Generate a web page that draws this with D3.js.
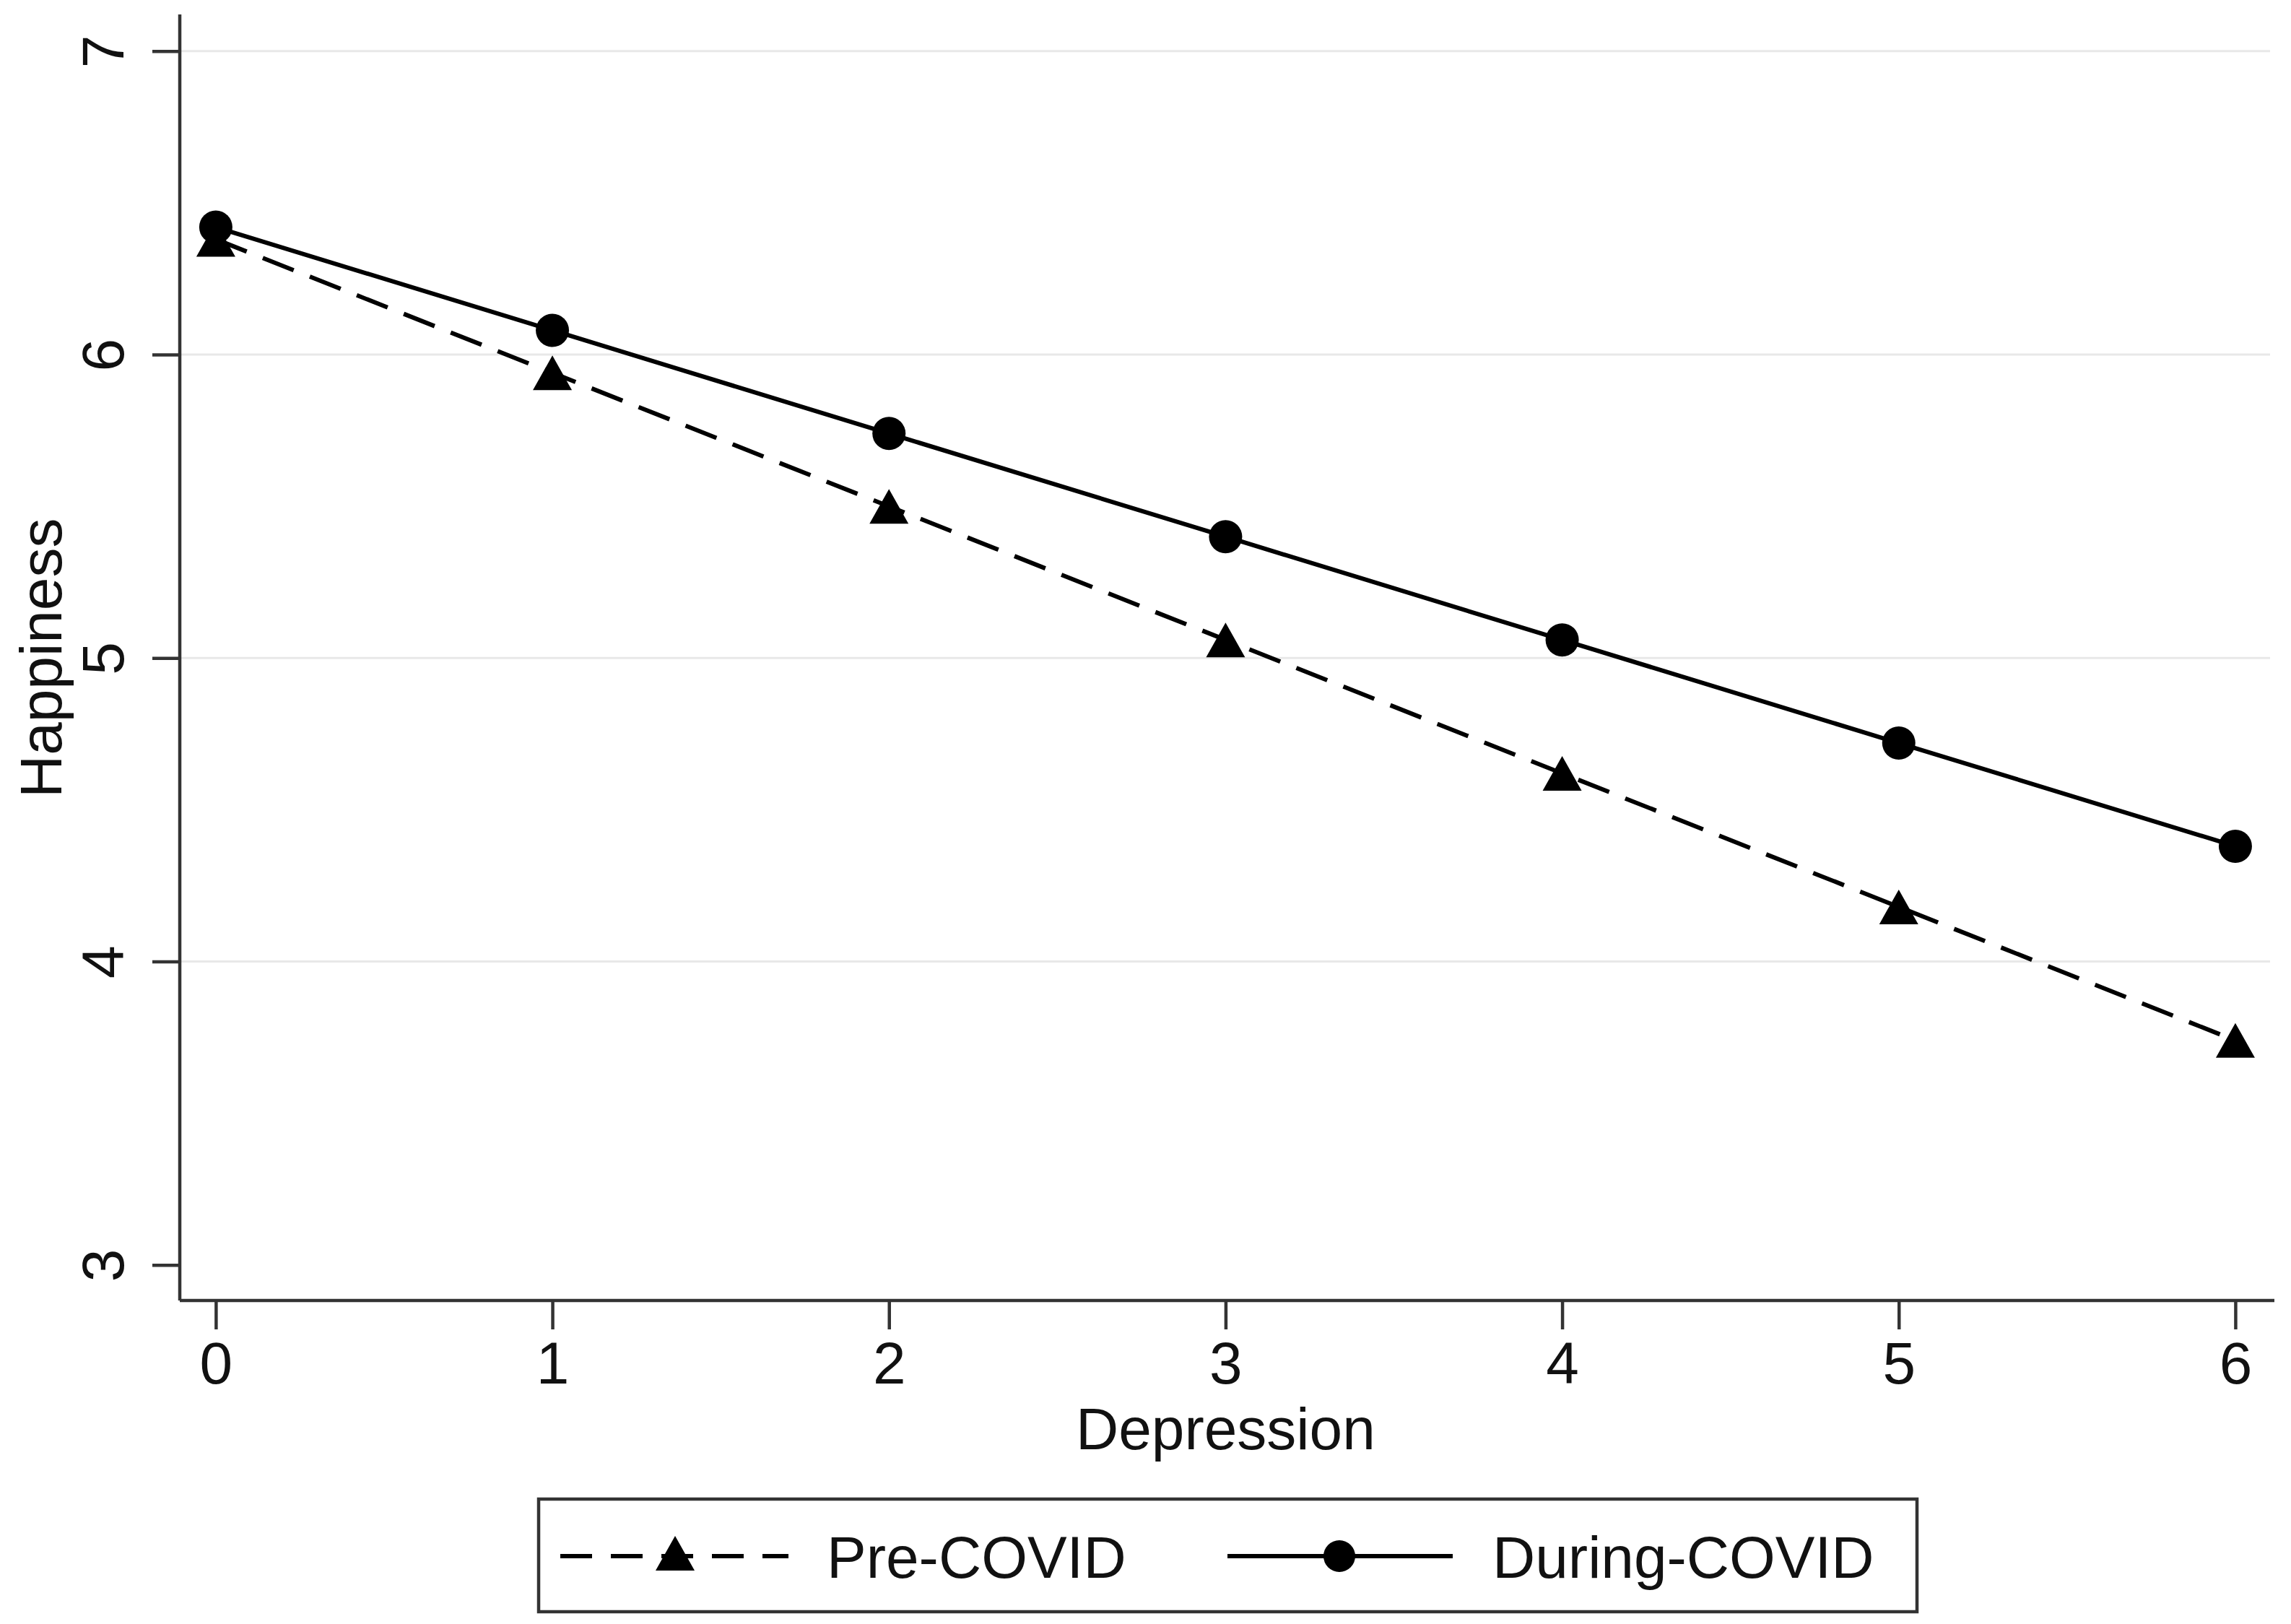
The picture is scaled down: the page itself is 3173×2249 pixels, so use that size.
<!DOCTYPE html>
<html>
<head>
<meta charset="utf-8">
<script src="https://cdn.jsdelivr.net/npm/d3@7"></script>
<style>
  html, body { margin: 0; padding: 0; background: #fff; }
  svg { display: block; }
  text { font-family: "Liberation Sans", Arial, Helvetica, sans-serif; fill: #111; }
</style>
</head>
<body>
<svg id="chart" width="3173" height="2249"></svg>
<script>
// ---- data ----
const depression = [0, 1, 2, 3, 4, 5, 6];
const preCovid = [6.38, 5.94, 5.50, 5.06, 4.62, 4.18, 3.74];
const duringCovid = [6.42, 6.08, 5.74, 5.40, 5.06, 4.72, 4.38];
const yTicks = [3, 4, 5, 6, 7];
const gridTicks = [4, 5, 6, 7];
const xTicks = [0, 1, 2, 3, 4, 5, 6];
const seriesNames = ["Pre-COVID", "During-COVID"];
const xTitle = "Depression";
const yTitle = "Happiness";

const W = 3173, H = 2249;
const svg = d3.select("#chart").attr("width", W).attr("height", H);
svg.append("rect").attr("width", W).attr("height", H).attr("fill", "#fff");

const plotLeft = 249, plotRight = 3150, plotTop = 20, plotBottom = 1801;
const x = d3.scaleLinear().domain([-0.107, 6.116]).range([plotLeft, plotRight]);
const y = d3.scaleLinear().domain([2.883, 7.121]).range([plotBottom, plotTop]);

const FS = 82;
const axisColor = "#333";

// gridlines
svg.append("g").selectAll("line").data(gridTicks).join("line")
  .attr("x1", plotLeft).attr("x2", plotRight - 6)
  .attr("y1", d => y(d)).attr("y2", d => y(d))
  .attr("stroke", "#e8e8e8").attr("stroke-width", 3);

// y axis
const yAxis = svg.append("g").attr("transform", `translate(${plotLeft},0)`)
  .call(d3.axisLeft(y).tickValues(yTicks).tickSize(38).tickPadding(0).tickFormat(d3.format("d")));
yAxis.select(".domain").attr("stroke", axisColor).attr("stroke-width", 4.5)
  .attr("d", `M0,${plotTop}V${plotBottom}`);
yAxis.selectAll(".tick line").attr("stroke", axisColor).attr("stroke-width", 4.5);
yAxis.selectAll(".tick text")
  .attr("font-size", FS)
  .attr("text-anchor", "middle")
  .attr("x", null).attr("dy", null)
  .attr("transform", "translate(-78,0) rotate(-90)")
  .attr("y", 0);

// x axis
const xAxis = svg.append("g").attr("transform", `translate(0,${plotBottom})`)
  .call(d3.axisBottom(x).tickValues(xTicks).tickSize(40).tickPadding(0).tickFormat(d3.format("d")));
xAxis.select(".domain").attr("stroke", axisColor).attr("stroke-width", 4.5)
  .attr("d", `M${plotLeft},0H${plotRight}`);
xAxis.selectAll(".tick line").attr("stroke", axisColor).attr("stroke-width", 4.5);
xAxis.selectAll(".tick text").attr("font-size", FS).attr("dy", null).attr("y", 115);

svg.selectAll(".tick text").style("font-family", '"Liberation Sans", Arial, sans-serif').attr("fill", "#111");

// axis titles
svg.append("text").attr("x", (x(0) + x(6)) / 2).attr("y", 2007)
  .attr("text-anchor", "middle").attr("font-size", FS).text(xTitle);
svg.append("text").attr("transform", `translate(85,${(y(3) + y(7)) / 2}) rotate(-90)`)
  .attr("text-anchor", "middle").attr("font-size", FS).text(yTitle);

// series
const line = d3.line().x((d, i) => x(depression[i])).y(d => y(d));
const triPath = "M0,-24L27,24L-27,24Z";

svg.append("path").datum(preCovid).attr("d", line)
  .attr("fill", "none").attr("stroke", "#000").attr("stroke-width", 6)
  .attr("stroke-dasharray", "46,24");
svg.append("path").datum(duringCovid).attr("d", line)
  .attr("fill", "none").attr("stroke", "#000").attr("stroke-width", 6);

svg.append("g").selectAll("path").data(preCovid).join("path")
  .attr("d", triPath)
  .attr("transform", (d, i) => `translate(${x(depression[i])},${y(d)})`)
  .attr("fill", "#000");
svg.append("g").selectAll("circle").data(duringCovid).join("circle")
  .attr("cx", (d, i) => x(depression[i])).attr("cy", d => y(d))
  .attr("r", 23).attr("fill", "#000");

// legend
const lg = svg.append("g");
lg.append("rect").attr("x", 746).attr("y", 2076).attr("width", 1909).attr("height", 156)
  .attr("fill", "#fff").attr("stroke", axisColor).attr("stroke-width", 4.5);
const ly = 2155;
lg.append("line").attr("x1", 776).attr("x2", 1092).attr("y1", ly).attr("y2", ly)
  .attr("stroke", "#000").attr("stroke-width", 6).attr("stroke-dasharray", "44,26");
lg.append("path").attr("d", triPath).attr("transform", `translate(935,${ly - 4})`).attr("fill", "#000");
lg.append("text").attr("x", 1145).attr("y", 2185).attr("font-size", FS).text(seriesNames[0]);
lg.append("line").attr("x1", 1700).attr("x2", 2012).attr("y1", ly).attr("y2", ly)
  .attr("stroke", "#000").attr("stroke-width", 6);
lg.append("circle").attr("cx", 1855).attr("cy", ly).attr("r", 22).attr("fill", "#000");
lg.append("text").attr("x", 2067).attr("y", 2185).attr("font-size", FS).text(seriesNames[1]);
</script>
</body>
</html>
